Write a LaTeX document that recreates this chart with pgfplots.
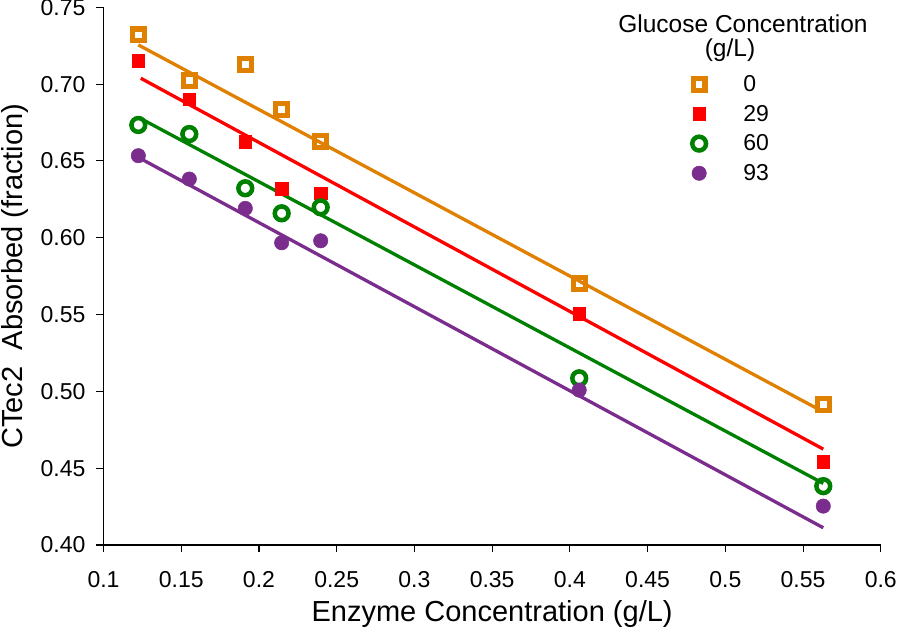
\documentclass[border=0pt]{standalone}
\usepackage{fontspec}
\setmainfont{Liberation Sans}
\usepackage{pgfplots}
\pgfplotsset{compat=1.18}
\usepackage{pgfplotstable}
\definecolor{corange}{RGB}{224,128,0}
\definecolor{cred}{RGB}{255,0,0}
\definecolor{cgreen}{RGB}{0,128,0}
\definecolor{cpurple}{RGB}{123,45,142}

\pgfplotstableread{
x y
0.1224 0.7320
0.1552 0.7022
0.1912 0.7129
0.2146 0.6836
0.2397 0.6625
0.4060 0.5703
0.5630 0.4915
}\dataA
\pgfplotstableread{
x y
0.1224 0.7150
0.1552 0.6901
0.1912 0.6625
0.2146 0.6319
0.2397 0.6289
0.4060 0.5503
0.5630 0.4542
}\dataB
\pgfplotstableread{
x y
0.1224 0.6734
0.1552 0.6675
0.1912 0.6322
0.2146 0.6159
0.2397 0.6198
0.4060 0.5085
0.5630 0.4383
}\dataC
\pgfplotstableread{
x y
0.1224 0.6534
0.1552 0.6382
0.1912 0.6191
0.2146 0.5967
0.2397 0.5980
0.4060 0.5008
0.5630 0.4253
}\dataD

\newcommand{\tickfont}{\fontsize{23}{27}\selectfont}
\newcommand{\legfont}{\fontsize{23}{27}\selectfont}
\newcommand{\titfont}{\fontsize{24.5}{29}\selectfont}
\newcommand{\labfont}{\fontsize{29}{34}\selectfont}

\begin{document}
\begin{tikzpicture}
\begin{axis}[
  at={(0,0)}, anchor=south west,
  scale only axis, width=777.3pt, height=537.7pt,
  xmin=0.1, xmax=0.6, ymin=0.40, ymax=0.75,
  xtick={0.1,0.15,0.2,0.25,0.3,0.35,0.4,0.45,0.5,0.55,0.6},
  xticklabels={0.1,0.15,0.2,0.25,0.3,0.35,0.4,0.45,0.5,0.55,0.6},
  ytick={0.40,0.45,0.50,0.55,0.60,0.65,0.70,0.75},
  yticklabels={0.40,0.45,0.50,0.55,0.60,0.65,0.70,0.75},
  axis lines=left,
  axis line style={line width=1.1pt, black, -},
  tick align=outside, major tick length=7.5pt,
  tick style={line width=1.1pt, black},
  xticklabel style={font=\tickfont, yshift=-15pt},
  yticklabel style={font=\tickfont, xshift=-7pt},
  xlabel={Enzyme Concentration (g/L)},
  ylabel={CTec2\ \ Absorbed (fraction)},
  xlabel style={at={(axis description cs:0.5,-0.1432)}, anchor=base, font=\labfont},
  ylabel style={at={(axis description cs:-0.1139,0.5)}, anchor=center, font=\labfont},
  clip=false,
  legend image code/.code={\draw[#1] plot coordinates {(0pt,0pt)};},
  legend style={at={(rel axis cs:0.7568,0.8735)}, anchor=north west,
    draw=none, fill=none, inner sep=0pt, font=\legfont,
    row sep=12.1pt, column sep=37pt, cells={anchor=west},
    nodes={inner sep=0pt}},
]
% fitted lines
\addplot[forget plot, corange, line width=3.3pt] coordinates {(0.1224,0.7255) (0.5630,0.4867)};
\addplot[forget plot, cred, line width=3.3pt] coordinates {(0.1240,0.7038) (0.5630,0.4624)};
\addplot[forget plot, cgreen, line width=3.3pt] coordinates {(0.1224,0.6784) (0.5630,0.4401)};
\addplot[forget plot, cpurple, line width=3.3pt] coordinates {(0.1235,0.6517) (0.5630,0.4112)};
% data
\addplot[only marks, mark=square, mark size=5.9pt, mark options={draw=corange, line width=5.2pt}] table {\dataA};
\addlegendentry{0}
\addplot[only marks, mark=square*, mark size=6.4pt, mark options={draw=cred, fill=cred, line width=0.5pt}] table {\dataB};
\addlegendentry{29}
\addplot[only marks, mark=o, mark size=6.9pt, mark options={draw=cgreen, line width=4.5pt}] table {\dataC};
\addlegendentry{60}
\addplot[only marks, mark=*, mark size=7.2pt, mark options={draw=cpurple, fill=cpurple, line width=0.5pt}] table {\dataD};
\addlegendentry{93}
\node[anchor=base, font=\titfont] at (rel axis cs:0.8227,0.954) {Glucose Concentration};
\node[anchor=base, font=\titfont] at (rel axis cs:0.806,0.9076) {(g/L)};
\end{axis}
\pgfresetboundingbox
\path (-103.5pt,-83pt) rectangle (794.5pt,545pt);
\end{tikzpicture}
\end{document}
